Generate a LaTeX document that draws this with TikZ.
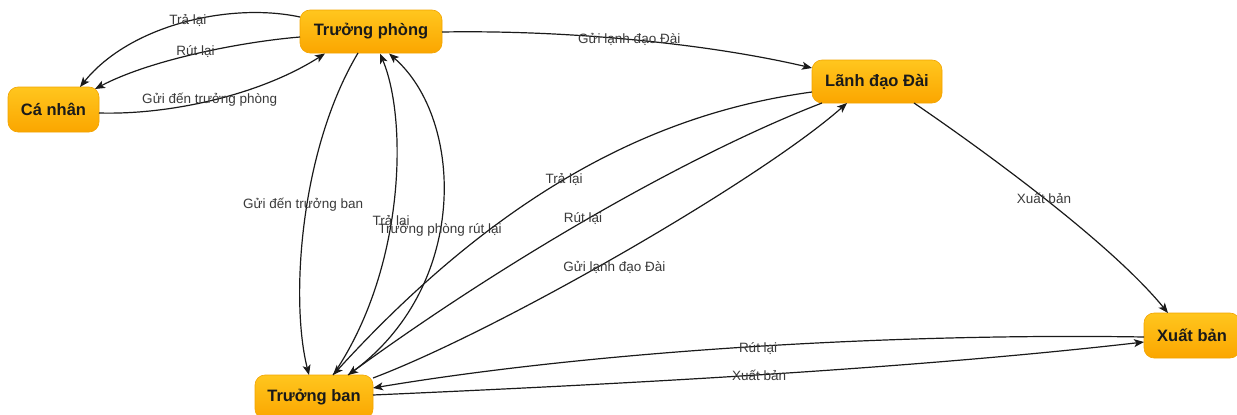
\documentclass[tikz,border=0pt]{standalone}
\usepackage{fontspec}
\setmainfont{Liberation Sans}
\usetikzlibrary{arrows.meta,calc}
\definecolor{edgec}{HTML}{1A1A1A}
\definecolor{lblc}{HTML}{3A3A3A}
\definecolor{nodetop}{HTML}{FFC61E}
\definecolor{nodebot}{HTML}{FBA600}
\definecolor{nodeline}{HTML}{F2A400}
\definecolor{nodetext}{HTML}{1A1A1A}
\begin{document}
\begin{tikzpicture}[x=1pt,y=-1pt,
  state/.style={rectangle, rounded corners=10pt, top color=nodetop, bottom color=nodebot,
    draw=nodeline, line width=0.6pt, inner sep=0pt, text=nodetext,
    font=\fontsize{16.5}{19}\selectfont\bfseries},
  conn/.style={draw=edgec, line width=1.2pt, -{Stealth[length=10pt,width=8pt,inset=2.5pt]}},
  lbl/.style={font=\fontsize{13.5}{16}\selectfont, text=lblc, inner sep=1pt}]
\useasboundingbox (0,0) rectangle (1237,415);

\node[state, minimum width=91pt, minimum height=45pt] (cn) at (53.5,109.5) {Cá nhân};
\node[state, minimum width=142pt, minimum height=43pt] (tp) at (371,31.5) {Trưởng phòng};
\node[state, minimum width=130pt, minimum height=43pt] (ld) at (877,81.5) {Lãnh đạo Đài};
\node[state, minimum width=96pt, minimum height=45pt] (xb) at (1192,335.5) {Xuất bản};
\node[state, minimum width=118pt, minimum height=44pt] (tb) at (314,397) {Trưởng ban};

% Truong phong -> Ca nhan
\draw[conn] ($(tp)+(-71,-14.5)$) .. controls (230,2) and (130,25) .. ($(cn)+(26.5,-22.5)$)
  node[lbl,pos=.5,xshift=5.5pt,yshift=3pt] (l1) {Trả lại};
\draw[conn] ($(tp)+(-71,5.5)$) .. controls (240,42) and (150,60) .. ($(cn)+(41.5,-20.5)$)
  node[lbl,pos=.5,yshift=2pt] (l2) {Rút lại};
% Ca nhan -> Truong phong
\draw[conn] ($(cn)+(45.5,3.5)$) .. controls (170,115) and (260,95) .. ($(tp)+(-46,22)$)
  node[lbl,pos=.5,xshift=-4.5pt] (l3) {Gửi đến trưởng phòng};
% Truong phong -> Lanh dao Dai
\draw[conn] ($(tp)+(71,0.5)$) .. controls (560,30) and (700,42) .. ($(ld)+(-65,-13.5)$)
  node[lbl,pos=.5] (l4) {Gửi lạnh đạo Đài};
% Truong phong -> Truong ban
\draw[conn] ($(tp)+(-13,21.5)$) .. controls (300,150) and (290,300) .. ($(tb)+(-5,-22)$)
  node[lbl,pos=.45,xshift=-4pt] (l5) {Gửi đến trưởng ban};
% Truong ban -> Truong phong
\draw[conn] ($(tb)+(19,-22)$) .. controls (405,270) and (408,120) .. ($(tp)+(9,22)$)
  node[lbl,pos=.44] (l6) {Trả lại};
\draw[conn] ($(tb)+(34,-22)$) .. controls (470,290) and (465,120) .. ($(tp)+(18,22)$)
  node[lbl,pos=.44] (l7) {Trưởng phòng rút lại};
% Lanh dao Dai -> Truong ban
\draw[conn] ($(ld)+(-65,10.5)$) .. controls (680,110) and (520,170) .. ($(tb)+(19,-22)$)
  node[lbl,pos=.56] (l8) {Trả lại};
\draw[conn] ($(ld)+(-55,21.5)$) .. controls (700,150) and (520,250) .. ($(tb)+(34,-22)$)
  node[lbl,pos=.53,xshift=-6pt] (l9) {Rút lại};
% Truong ban -> Lanh dao Dai
\draw[conn] ($(tb)+(59,-19)$) .. controls (500,330) and (760,180) .. ($(ld)+(-30,21.5)$)
  node[lbl,pos=.45,xshift=17pt] (l10) {Gửi lạnh đạo Đài};
% Lanh dao Dai -> Xuat ban
\draw[conn] ($(ld)+(37,21.5)$) .. controls (980,148) and (1110,242) .. ($(xb)+(-24,-22.5)$)
  node[lbl,pos=.5] (l11) {Xuất bản};
% Xuat ban -> Truong ban
\draw[conn] ($(xb)+(-48,1.5)$) .. controls (900,333) and (600,350) .. ($(tb)+(59,-9)$)
  node[lbl,pos=.5,xshift=6pt,yshift=-2pt] (l12) {Rút lại};
% Truong ban -> Xuat ban
\draw[conn] ($(tb)+(59,-2)$) .. controls (600,385) and (900,370) .. ($(xb)+(-48,6.5)$)
  node[lbl,pos=.5,xshift=7pt] (l13) {Xuất bản};
\end{tikzpicture}
\end{document}
